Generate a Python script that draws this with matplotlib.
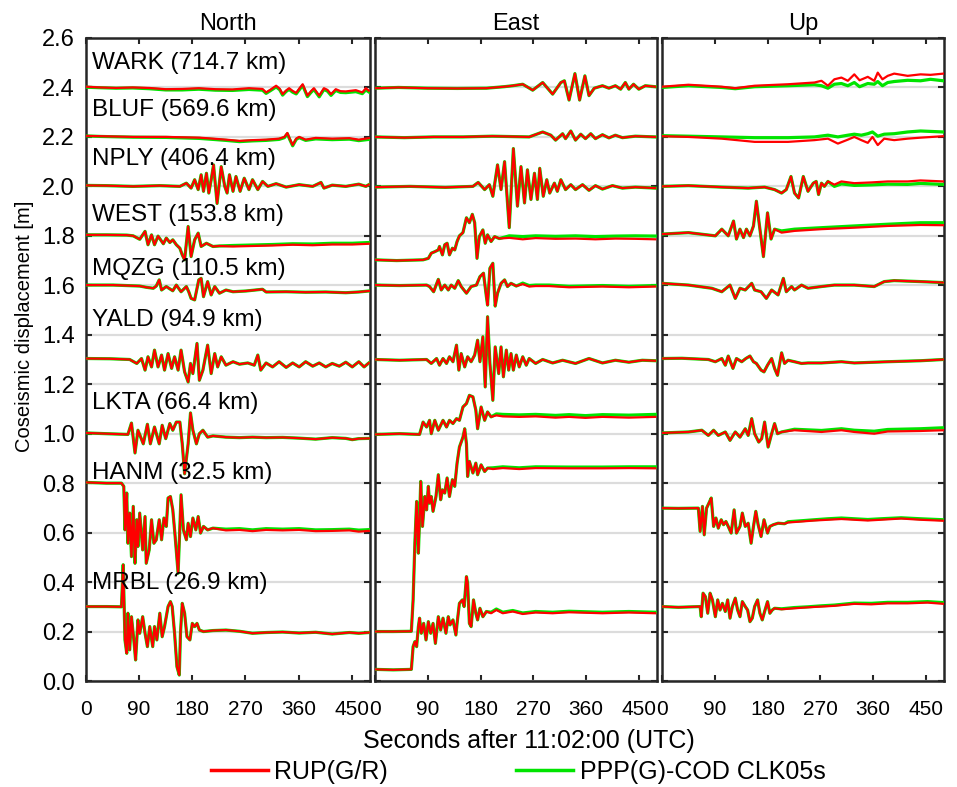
import numpy as np
import matplotlib
matplotlib.use('Agg')
import matplotlib.pyplot as plt

plt.rcParams['font.family'] = ['Liberation Sans', 'DejaVu Sans']

# ---------------- data ----------------
# time [s] / RUP(G/R) red / PPP(G)-COD green, per station and component

# North
N_WARK_T = [0, 24, 51, 79, 107, 135, 163, 191, 219, 248, 276, 299, 305, 313, 322, 328, 333, 339, 344, 350, 356,
            362, 367, 375, 381, 386, 395, 403, 409, 415, 423, 431, 440, 457, 468, 474, 479]
N_WARK_R = [2.403, 2.400, 2.398, 2.400, 2.398, 2.393, 2.394, 2.397, 2.393, 2.392, 2.397, 2.394, 2.380, 2.392, 2.407,
            2.395, 2.373, 2.388, 2.397, 2.386, 2.378, 2.398, 2.413, 2.367, 2.385, 2.397, 2.367, 2.397, 2.390, 2.373,
            2.393, 2.385, 2.384, 2.389, 2.380, 2.397, 2.387]
N_WARK_G = [2.401, 2.399, 2.397, 2.398, 2.395, 2.390, 2.390, 2.393, 2.389, 2.388, 2.392, 2.389, 2.376, 2.388, 2.402,
            2.391, 2.369, 2.384, 2.392, 2.381, 2.374, 2.393, 2.408, 2.363, 2.380, 2.392, 2.362, 2.392, 2.385, 2.368,
            2.388, 2.380, 2.379, 2.383, 2.375, 2.390, 2.382]

N_BLUF_T = [0, 24, 80, 136, 192, 215, 237, 260, 282, 305, 327, 336, 341, 345, 350, 356, 361, 372, 389, 417, 446, 462, 479]
N_BLUF_R = [2.204, 2.203, 2.200, 2.200, 2.197, 2.193, 2.189, 2.184, 2.187, 2.189, 2.193, 2.200, 2.216, 2.193, 2.167,
            2.193, 2.200, 2.189, 2.196, 2.193, 2.195, 2.189, 2.195]
N_BLUF_G = [2.204, 2.202, 2.199, 2.198, 2.194, 2.190, 2.186, 2.181, 2.184, 2.186, 2.190, 2.197, 2.213, 2.190, 2.164,
            2.190, 2.197, 2.186, 2.192, 2.189, 2.191, 2.185, 2.190]

N_NPLY_T = [0, 35, 80, 125, 159, 170, 178, 184, 190, 195, 199, 204, 208, 212, 216, 222, 229, 235, 239, 243, 249, 254,
            261, 268, 276, 282, 291, 299, 308, 322, 339, 361, 384, 398, 403, 417, 440, 462, 474, 479]
N_NPLY_R = [2.004, 2.003, 2.000, 2.003, 2.000, 2.013, 1.993, 2.027, 1.987, 2.047, 1.980, 2.053, 1.973, 2.027, 2.087,
            1.931, 2.080, 2.000, 1.973, 2.047, 1.980, 2.040, 1.980, 2.033, 1.987, 2.027, 1.987, 2.020, 2.000, 2.011,
            1.997, 2.007, 2.000, 2.016, 1.993, 2.005, 2.000, 2.009, 2.000, 2.007]
N_NPLY_G = N_NPLY_R  # green lies under red

N_WEST_T = [0, 35, 69, 80, 91, 100, 105, 111, 116, 122, 131, 136, 142, 147, 153, 159, 163, 167, 173, 178, 184, 190,
            195, 204, 215, 226, 249, 282, 316, 350, 384, 417, 451, 479]
N_WEST_R = [1.804, 1.804, 1.803, 1.800, 1.786, 1.818, 1.764, 1.804, 1.764, 1.799, 1.768, 1.791, 1.773, 1.784, 1.764,
            1.750, 1.723, 1.703, 1.838, 1.716, 1.784, 1.811, 1.757, 1.770, 1.757, 1.759, 1.757, 1.759, 1.761, 1.764,
            1.762, 1.765, 1.765, 1.768]
N_WEST_G = N_WEST_R[:26] + [1.761, 1.763, 1.765, 1.768, 1.767, 1.770, 1.770, 1.773]

N_MQZG_T = [0, 46, 91, 102, 114, 119, 124, 128, 136, 143, 147, 153, 161, 170, 174, 178, 184, 191, 195, 199, 206, 212,
            218, 226, 237, 249, 271, 299, 305, 339, 372, 406, 440, 462, 479]
N_MQZG_R = [1.601, 1.601, 1.597, 1.592, 1.588, 1.597, 1.622, 1.581, 1.595, 1.584, 1.578, 1.601, 1.574, 1.595, 1.574,
            1.547, 1.541, 1.622, 1.628, 1.554, 1.615, 1.561, 1.595, 1.568, 1.581, 1.574, 1.577, 1.584, 1.573, 1.574,
            1.572, 1.573, 1.570, 1.573, 1.577]
N_MQZG_G = N_MQZG_R

N_YALD_T = [0, 41, 74, 86, 94, 100, 105, 111, 116, 122, 128, 133, 139, 145, 150, 156, 161, 167, 173, 177, 181, 188,
            192, 198, 206, 212, 218, 223, 229, 237, 249, 260, 274, 285, 291, 296, 305, 316, 327, 339, 350, 361, 372,
            384, 395, 406, 417, 429, 440, 451, 462, 471, 479]
N_YALD_R = [1.304, 1.303, 1.300, 1.284, 1.304, 1.257, 1.311, 1.270, 1.338, 1.270, 1.318, 1.257, 1.324, 1.264, 1.311,
            1.257, 1.338, 1.250, 1.209, 1.284, 1.243, 1.365, 1.216, 1.257, 1.358, 1.243, 1.324, 1.270, 1.311, 1.277,
            1.291, 1.281, 1.286, 1.277, 1.318, 1.257, 1.286, 1.270, 1.291, 1.268, 1.286, 1.270, 1.291, 1.273, 1.286,
            1.270, 1.284, 1.273, 1.289, 1.270, 1.291, 1.270, 1.286]
N_YALD_G = N_YALD_R

N_LKTA_T = [0, 35, 71, 77, 83, 88, 97, 104, 109, 116, 124, 129, 135, 142, 147, 153, 159, 163, 167, 173, 177, 181, 187,
            192, 198, 206, 215, 237, 260, 282, 305, 333, 361, 389, 417, 440, 451, 462, 479]
N_LKTA_R = [1.003, 1.000, 0.997, 1.043, 0.922, 1.014, 0.959, 1.038, 0.959, 1.027, 0.959, 1.034, 0.980, 1.041, 1.014,
            1.047, 1.047, 0.959, 0.838, 0.959, 1.084, 1.014, 0.959, 1.000, 1.014, 0.986, 0.991, 0.986, 0.984, 0.986,
            0.984, 0.985, 0.982, 0.978, 0.984, 0.981, 0.976, 0.980, 0.981]
N_LKTA_G = N_LKTA_R

N_HANM_T = [0, 35, 60, 64, 66, 69, 71, 74, 77, 80, 83, 86, 88, 91, 96, 100, 102, 107, 111, 115, 119, 124, 128, 132,
            136, 139, 143, 147, 151, 156, 159, 161, 165, 170, 173, 177, 181, 186, 190, 194, 199, 206, 215, 237, 260,
            282, 305, 333, 361, 389, 417, 446, 462, 479]
N_HANM_R = [0.803, 0.800, 0.800, 0.787, 0.611, 0.760, 0.557, 0.679, 0.503, 0.706, 0.476, 0.652, 0.544, 0.679, 0.530,
            0.665, 0.476, 0.530, 0.652, 0.557, 0.571, 0.652, 0.571, 0.659, 0.625, 0.740, 0.746, 0.692, 0.584, 0.436,
            0.625, 0.753, 0.611, 0.571, 0.638, 0.584, 0.659, 0.611, 0.665, 0.598, 0.625, 0.611, 0.618, 0.609, 0.611,
            0.606, 0.611, 0.609, 0.611, 0.606, 0.607, 0.609, 0.604, 0.607]
N_HANM_G = N_HANM_R[:43] + [0.614, 0.616, 0.611, 0.616, 0.614, 0.616, 0.611, 0.612, 0.614, 0.610, 0.612]

N_MRBL_T = [0, 35, 60, 63, 66, 69, 71, 74, 77, 81, 84, 88, 91, 96, 100, 104, 108, 113, 116, 120, 125, 129, 133, 139,
            143, 146, 150, 154, 158, 160, 163, 167, 171, 176, 180, 184, 188, 192, 199, 215, 237, 260, 282, 305, 333,
            361, 389, 417, 446, 462, 479]
N_MRBL_R = [0.301, 0.301, 0.300, 0.470, 0.166, 0.112, 0.274, 0.126, 0.260, 0.166, 0.085, 0.247, 0.193, 0.260, 0.193,
            0.139, 0.220, 0.139, 0.220, 0.166, 0.274, 0.179, 0.220, 0.301, 0.321, 0.301, 0.193, 0.058, 0.024, 0.193,
            0.314, 0.274, 0.179, 0.166, 0.233, 0.220, 0.233, 0.206, 0.200, 0.204, 0.206, 0.201, 0.193, 0.196, 0.198,
            0.194, 0.197, 0.190, 0.196, 0.193, 0.196]
N_MRBL_G = N_MRBL_R

# East
E_WARK_T = [0, 40, 90, 140, 190, 220, 235, 252, 269, 286, 303, 317, 323, 331, 341, 349, 358, 365, 374, 388, 399, 410,
            419, 427, 433, 441, 450, 461, 478]
E_WARK_R = [2.397, 2.400, 2.397, 2.396, 2.397, 2.403, 2.407, 2.413, 2.389, 2.420, 2.373, 2.420, 2.427, 2.349, 2.456,
            2.349, 2.447, 2.367, 2.397, 2.407, 2.397, 2.407, 2.393, 2.420, 2.393, 2.413, 2.393, 2.407, 2.403]
E_WARK_G = E_WARK_R

E_BLUF_T = [0, 50, 100, 150, 200, 263, 286, 300, 308, 320, 325, 334, 342, 351, 359, 368, 376, 388, 399, 410, 422, 444, 478]
E_BLUF_R = [2.200, 2.197, 2.200, 2.200, 2.203, 2.200, 2.220, 2.207, 2.187, 2.213, 2.193, 2.224, 2.187, 2.211, 2.193,
            2.213, 2.193, 2.209, 2.196, 2.207, 2.197, 2.203, 2.200]
E_BLUF_G = E_BLUF_R

E_NPLY_T = [0, 60, 120, 167, 176, 187, 195, 201, 209, 215, 221, 229, 236, 243, 249, 255, 260, 266, 272, 277, 281, 287,
            293, 298, 306, 311, 317, 325, 334, 342, 354, 365, 376, 388, 405, 422, 444, 478]
E_NPLY_R = [1.997, 2.000, 1.996, 2.000, 2.016, 1.987, 2.007, 1.960, 2.087, 1.987, 2.100, 1.833, 2.153, 1.920, 2.080,
            1.933, 2.067, 1.947, 2.053, 1.947, 2.073, 1.960, 2.027, 1.973, 2.013, 1.980, 2.027, 1.987, 2.007, 1.987,
            2.007, 1.984, 2.003, 1.989, 2.003, 1.993, 1.997, 1.993]
E_NPLY_G = E_NPLY_R

E_WEST_T = [0, 37, 82, 91, 96, 102, 108, 110, 115, 119, 123, 127, 132, 136, 140, 144, 150, 156, 161, 166, 170, 174,
            178, 184, 188, 192, 198, 204, 212, 229, 252, 274, 308, 342, 376, 410, 444, 478]
E_WEST_R = [1.703, 1.700, 1.703, 1.709, 1.730, 1.736, 1.743, 1.757, 1.723, 1.764, 1.770, 1.723, 1.750, 1.743, 1.777,
            1.800, 1.813, 1.873, 1.853, 1.887, 1.853, 1.709, 1.797, 1.824, 1.770, 1.804, 1.777, 1.797, 1.789, 1.792,
            1.786, 1.791, 1.788, 1.789, 1.786, 1.789, 1.788, 1.786]
E_WEST_G = E_WEST_R[:29] + [1.800, 1.797, 1.800, 1.798, 1.800, 1.797, 1.799, 1.800, 1.799]

E_MQZG_T = [0, 42, 88, 93, 100, 108, 113, 119, 125, 130, 136, 142, 147, 156, 164, 173, 179, 185, 190, 192, 196, 201,
            205, 209, 215, 221, 226, 232, 241, 252, 263, 274, 297, 331, 388, 433, 478]
E_MQZG_R = [1.601, 1.599, 1.601, 1.595, 1.574, 1.624, 1.581, 1.601, 1.581, 1.601, 1.588, 1.619, 1.595, 1.568, 1.595,
            1.601, 1.635, 1.649, 1.554, 1.520, 1.669, 1.689, 1.516, 1.568, 1.608, 1.622, 1.595, 1.608, 1.597, 1.605,
            1.595, 1.597, 1.597, 1.592, 1.595, 1.592, 1.595]
E_MQZG_G = E_MQZG_R[:29] + [1.609, 1.599, 1.601, 1.601, 1.596, 1.599, 1.596, 1.599]

E_YALD_T = [0, 42, 88, 96, 105, 110, 116, 122, 127, 133, 139, 143, 147, 153, 158, 164, 170, 175, 179, 184, 188, 192,
            196, 201, 205, 211, 215, 219, 224, 228, 232, 236, 241, 246, 252, 258, 263, 274, 286, 303, 320, 342, 365,
            388, 410, 433, 456, 478]
E_YALD_R = [1.300, 1.297, 1.300, 1.284, 1.304, 1.277, 1.304, 1.284, 1.311, 1.291, 1.358, 1.257, 1.324, 1.270, 1.311,
            1.291, 1.318, 1.378, 1.291, 1.392, 1.189, 1.473, 1.284, 1.135, 1.351, 1.243, 1.351, 1.230, 1.338, 1.257,
            1.324, 1.257, 1.318, 1.270, 1.311, 1.277, 1.304, 1.284, 1.300, 1.286, 1.297, 1.284, 1.304, 1.286, 1.297,
            1.289, 1.297, 1.295]
E_YALD_G = E_YALD_R

E_LKTA_T = [0, 42, 76, 82, 88, 93, 96, 102, 108, 112, 116, 122, 127, 133, 139, 144, 150, 156, 161, 167, 172, 175, 181,
            187, 192, 198, 207, 218, 246, 274, 308, 331, 359, 388, 433, 478]
E_LKTA_R = [0.997, 1.000, 0.997, 1.047, 1.027, 1.054, 1.000, 1.054, 1.014, 1.034, 1.054, 1.027, 1.054, 1.041, 1.061,
            1.054, 1.108, 1.122, 1.155, 1.149, 1.095, 1.020, 1.108, 1.054, 1.088, 1.068, 1.074, 1.070, 1.068, 1.070,
            1.065, 1.068, 1.064, 1.068, 1.065, 1.068]
E_LKTA_G = E_LKTA_R[:26] + [1.080, 1.078, 1.076, 1.078, 1.074, 1.077, 1.073, 1.077, 1.075, 1.078]

E_HANM_T = [0, 31, 62, 65, 68, 71, 74, 76, 78, 81, 85, 88, 91, 93, 96, 99, 104, 108, 112, 115, 119, 123, 127, 132,
            136, 140, 144, 150, 153, 156, 158, 161, 167, 172, 175, 181, 187, 192, 201, 218, 246, 274, 331, 388, 433, 478]
E_HANM_R = [0.200, 0.200, 0.201, 0.328, 0.557, 0.726, 0.517, 0.652, 0.807, 0.625, 0.746, 0.692, 0.787, 0.719, 0.746,
            0.686, 0.746, 0.834, 0.733, 0.773, 0.760, 0.821, 0.746, 0.814, 0.787, 0.881, 0.946, 0.986, 1.020, 0.959,
            0.827, 0.888, 0.841, 0.881, 0.834, 0.874, 0.847, 0.861, 0.857, 0.861, 0.857, 0.861, 0.860, 0.860, 0.861,
            0.860]
E_HANM_G = E_HANM_R[:38] + [0.862, 0.866, 0.862, 0.866, 0.865, 0.865, 0.866, 0.866]

E_MRBL_T = [0, 31, 62, 65, 68, 71, 74, 76, 79, 83, 87, 91, 95, 99, 103, 108, 112, 116, 121, 125, 128, 133, 138, 140,
            144, 149, 152, 156, 158, 161, 164, 168, 172, 175, 179, 184, 190, 198, 207, 218, 235, 252, 274, 303, 331,
            388, 433, 478]
E_MRBL_R = [0.047, 0.045, 0.047, 0.139, 0.159, 0.139, 0.220, 0.254, 0.193, 0.233, 0.166, 0.240, 0.193, 0.233, 0.152,
            0.260, 0.206, 0.254, 0.193, 0.260, 0.227, 0.247, 0.186, 0.233, 0.314, 0.328, 0.301, 0.422, 0.395, 0.233,
            0.220, 0.328, 0.274, 0.247, 0.294, 0.260, 0.281, 0.274, 0.287, 0.274, 0.281, 0.271, 0.277, 0.274, 0.278,
            0.274, 0.277, 0.274]
E_MRBL_G = E_MRBL_R[:37] + [0.278, 0.291, 0.278, 0.285, 0.275, 0.281, 0.278, 0.282, 0.278, 0.281, 0.278]

# Up
U_WARK_T = [0, 45, 102, 125, 158, 215, 260, 272, 283, 294, 306, 317, 328, 337, 351, 362, 368, 376, 385, 396, 419, 441,
            458, 480]
U_WARK_R = [2.403, 2.411, 2.403, 2.397, 2.407, 2.413, 2.420, 2.427, 2.407, 2.433, 2.440, 2.427, 2.453, 2.429, 2.443,
            2.427, 2.460, 2.433, 2.447, 2.456, 2.447, 2.453, 2.451, 2.456]
U_WARK_G = [2.400, 2.407, 2.400, 2.395, 2.403, 2.407, 2.411, 2.407, 2.397, 2.413, 2.416, 2.407, 2.420, 2.403, 2.416,
            2.413, 2.424, 2.407, 2.420, 2.424, 2.429, 2.427, 2.433, 2.427]

U_BLUF_T = [0, 45, 102, 158, 215, 260, 283, 300, 317, 328, 340, 351, 359, 368, 379, 396, 419, 441, 480]
U_BLUF_R = [2.203, 2.200, 2.193, 2.180, 2.180, 2.187, 2.193, 2.173, 2.189, 2.200, 2.187, 2.176, 2.200, 2.167, 2.193,
            2.187, 2.193, 2.197, 2.203]
U_BLUF_G = [2.205, 2.203, 2.200, 2.197, 2.197, 2.200, 2.207, 2.200, 2.207, 2.211, 2.207, 2.213, 2.220, 2.203, 2.211,
            2.213, 2.220, 2.224, 2.220]

U_NPLY_T = [0, 45, 102, 147, 175, 192, 204, 212, 220, 226, 233, 241, 249, 258, 263, 267, 272, 277, 283, 294, 306, 328,
            357, 385, 419, 441, 480]
U_NPLY_R = [2.000, 2.003, 1.997, 1.993, 1.997, 1.987, 1.973, 1.987, 2.040, 1.973, 1.953, 2.040, 1.980, 2.013, 2.020,
            1.967, 2.013, 2.000, 2.020, 2.007, 2.020, 2.013, 2.016, 2.020, 2.020, 2.024, 2.020]
U_NPLY_G = U_NPLY_R[:19] + [2.000, 2.010, 2.004, 2.006, 2.009, 2.008, 2.012, 2.008]

U_WEST_T = [0, 45, 91, 102, 113, 122, 127, 133, 139, 144, 150, 156, 161, 167, 173, 180, 186, 192, 204, 226, 272, 328,
            385, 441, 480]
U_WEST_R = [1.807, 1.813, 1.800, 1.827, 1.800, 1.860, 1.787, 1.827, 1.793, 1.827, 1.800, 1.840, 1.940, 1.827, 1.716,
            1.893, 1.787, 1.827, 1.813, 1.820, 1.827, 1.833, 1.840, 1.844, 1.843]
U_WEST_G = U_WEST_R[:18] + [1.820, 1.827, 1.833, 1.840, 1.847, 1.853, 1.853]

U_MQZG_T = [0, 45, 85, 102, 116, 125, 133, 142, 153, 158, 169, 178, 187, 198, 207, 212, 221, 226, 238, 249, 272, 294,
            328, 362, 379, 396, 441, 480]
U_MQZG_R = [1.608, 1.601, 1.588, 1.574, 1.601, 1.547, 1.588, 1.581, 1.608, 1.581, 1.574, 1.547, 1.581, 1.561, 1.628,
            1.574, 1.595, 1.581, 1.601, 1.588, 1.595, 1.601, 1.601, 1.595, 1.615, 1.619, 1.615, 1.611]
U_MQZG_G = U_MQZG_R

U_YALD_T = [0, 34, 79, 91, 102, 108, 113, 121, 127, 136, 143, 150, 156, 161, 169, 174, 180, 187, 192, 197, 204, 209,
            215, 226, 238, 249, 272, 306, 328, 385, 441, 480]
U_YALD_R = [1.304, 1.305, 1.300, 1.291, 1.304, 1.277, 1.314, 1.264, 1.304, 1.291, 1.304, 1.314, 1.291, 1.284, 1.257,
            1.250, 1.277, 1.304, 1.264, 1.236, 1.327, 1.284, 1.297, 1.291, 1.284, 1.286, 1.286, 1.291, 1.286, 1.291,
            1.295, 1.300]
U_YALD_G = U_YALD_R

U_LKTA_T = [0, 45, 68, 79, 88, 96, 108, 116, 125, 133, 142, 147, 153, 158, 165, 170, 175, 181, 187, 192, 197, 204,
            226, 272, 306, 328, 362, 385, 441, 480]
U_LKTA_R = [1.003, 1.007, 1.014, 0.993, 1.014, 0.993, 1.007, 0.973, 1.007, 0.986, 1.020, 0.993, 1.061, 1.000, 0.966,
            0.980, 1.047, 0.946, 1.000, 1.041, 1.000, 1.007, 1.014, 1.007, 1.014, 1.007, 1.000, 1.009, 1.011, 1.014]
U_LKTA_G = U_LKTA_R[:22] + [1.018, 1.013, 1.020, 1.014, 1.010, 1.017, 1.020, 1.024]

U_HANM_T = [0, 28, 62, 65, 69, 72, 76, 80, 84, 88, 92, 96, 101, 105, 109, 113, 118, 123, 127, 133, 137, 142, 147, 152,
            156, 160, 164, 169, 174, 180, 184, 190, 198, 209, 215, 238, 260, 283, 306, 328, 351, 373, 408, 441, 480]
U_HANM_R = [0.699, 0.698, 0.699, 0.605, 0.706, 0.591, 0.699, 0.719, 0.740, 0.625, 0.659, 0.618, 0.652, 0.632, 0.645,
            0.625, 0.598, 0.692, 0.598, 0.625, 0.679, 0.625, 0.638, 0.557, 0.625, 0.686, 0.632, 0.584, 0.652, 0.598,
            0.625, 0.632, 0.638, 0.636, 0.641, 0.645, 0.649, 0.652, 0.655, 0.652, 0.649, 0.652, 0.657, 0.652, 0.648]
U_HANM_G = U_HANM_R[:34] + [0.644, 0.648, 0.652, 0.656, 0.659, 0.656, 0.653, 0.656, 0.660, 0.656, 0.652]

U_MRBL_T = [0, 28, 65, 67, 70, 74, 78, 82, 86, 91, 95, 99, 103, 108, 112, 116, 120, 125, 129, 133, 137, 142, 146, 150,
            154, 158, 163, 167, 171, 175, 180, 184, 188, 192, 204, 226, 249, 272, 294, 328, 357, 385, 419, 453, 480]
U_MRBL_R = [0.301, 0.298, 0.301, 0.260, 0.355, 0.341, 0.274, 0.355, 0.328, 0.260, 0.328, 0.287, 0.314, 0.281, 0.328,
            0.254, 0.301, 0.335, 0.287, 0.260, 0.321, 0.301, 0.287, 0.240, 0.254, 0.301, 0.328, 0.274, 0.247, 0.281,
            0.321, 0.274, 0.287, 0.294, 0.290, 0.294, 0.298, 0.301, 0.304, 0.312, 0.310, 0.314, 0.314, 0.317, 0.312]
U_MRBL_G = U_MRBL_R[:34] + [0.292, 0.297, 0.300, 0.304, 0.307, 0.315, 0.314, 0.318, 0.318, 0.321, 0.317]

STATIONS = ['WARK (714.7 km)', 'BLUF (569.6 km)', 'NPLY (406.4 km)', 'WEST (153.8 km)', 'MQZG (110.5 km)',
            'YALD (94.9 km)', 'LKTA (66.4 km)', 'HANM (32.5 km)', 'MRBL (26.9 km)']
COMPONENTS = ['North', 'East', 'Up']
SERIES = ['RUP(G/R)', 'PPP(G)-COD CLK05s']

NORTH = [(N_WARK_T, N_WARK_R, N_WARK_G), (N_BLUF_T, N_BLUF_R, N_BLUF_G), (N_NPLY_T, N_NPLY_R, N_NPLY_G),
         (N_WEST_T, N_WEST_R, N_WEST_G), (N_MQZG_T, N_MQZG_R, N_MQZG_G), (N_YALD_T, N_YALD_R, N_YALD_G),
         (N_LKTA_T, N_LKTA_R, N_LKTA_G), (N_HANM_T, N_HANM_R, N_HANM_G), (N_MRBL_T, N_MRBL_R, N_MRBL_G)]
EAST = [(E_WARK_T, E_WARK_R, E_WARK_G), (E_BLUF_T, E_BLUF_R, E_BLUF_G), (E_NPLY_T, E_NPLY_R, E_NPLY_G),
        (E_WEST_T, E_WEST_R, E_WEST_G), (E_MQZG_T, E_MQZG_R, E_MQZG_G), (E_YALD_T, E_YALD_R, E_YALD_G),
        (E_LKTA_T, E_LKTA_R, E_LKTA_G), (E_HANM_T, E_HANM_R, E_HANM_G), (E_MRBL_T, E_MRBL_R, E_MRBL_G)]
UP = [(U_WARK_T, U_WARK_R, U_WARK_G), (U_BLUF_T, U_BLUF_R, U_BLUF_G), (U_NPLY_T, U_NPLY_R, U_NPLY_G),
      (U_WEST_T, U_WEST_R, U_WEST_G), (U_MQZG_T, U_MQZG_R, U_MQZG_G), (U_YALD_T, U_YALD_R, U_YALD_G),
      (U_LKTA_T, U_LKTA_R, U_LKTA_G), (U_HANM_T, U_HANM_R, U_HANM_G), (U_MRBL_T, U_MRBL_R, U_MRBL_G)]

# ---------------- drawing ----------------
RED = '#ff0000'
GREEN = '#00e400'
SPINE = '#262626'

fig = plt.figure(figsize=(9.57, 7.87), dpi=100)
W, H = 957.0, 787.0
lefts = [86, 375, 662]
widths = [284, 282, 282]
bottom, top = 681, 38

# station label heights (y centre, data units) in the North panel
label_y = [2.50, 2.31, 2.11, 1.885, 1.665, 1.46, 1.125, 0.84, 0.395]

axes = []
for i, (comp, traces) in enumerate(zip(COMPONENTS, [NORTH, EAST, UP])):
    ax = fig.add_axes([lefts[i] / W, 1 - bottom / H, widths[i] / W, (bottom - top) / H])
    axes.append(ax)
    for t, r, g in traces:
        ax.plot(t, g, color=GREEN, lw=2.3, solid_joinstyle='round', zorder=3)
        ax.plot(t, r, color=RED, lw=1.6, solid_joinstyle='round', zorder=4)
    ax.set_xlim(0, 481)
    ax.set_ylim(0, 2.6)
    ax.set_xticks(np.arange(0, 451, 90))
    ax.set_yticks(np.arange(0, 2.61, 0.2))
    ax.yaxis.grid(True, color='#dcdcdc', lw=1.6, zorder=0)
    ax.set_axisbelow(True)
    ax.tick_params(direction='in', length=4, width=1.5, colors=SPINE, top=True, right=True,
                   labelcolor='black')
    ax.tick_params(axis='x', pad=14, labelsize=15)
    ax.tick_params(axis='y', pad=8, labelsize=17)
    for s in ax.spines.values():
        s.set_linewidth(1.8)
        s.set_color(SPINE)
    ax.set_title(comp, fontsize=17, pad=6)
    if i == 0:
        ax.set_yticklabels(['%.1f' % v for v in np.arange(0, 2.61, 0.2)])
    else:
        ax.set_yticklabels([])

for name, yv in zip(STATIONS, label_y):
    axes[0].text(10, yv, name, fontsize=17.5, va='center', ha='left', zorder=6)

fig.text(25 / W, 1 - 326 / H, 'Coseismic displacement [m]', rotation=90, fontsize=14.5,
         ha='center', va='center')
fig.text(529 / W, 1 - 741 / H, 'Seconds after 11:02:00 (UTC)', fontsize=18, ha='center', va='center')

handles = [plt.Line2D([], [], color=RED, lw=2.5), plt.Line2D([], [], color=GREEN, lw=2.5)]
fig.legend(handles, SERIES, loc='center', bbox_to_anchor=(518 / W, 1 - 772 / H), ncol=2, frameon=False,
           fontsize=18, handlelength=2.3, handletextpad=0.25, columnspacing=5.1, borderpad=0)

fig.savefig('out.png', dpi=100)
